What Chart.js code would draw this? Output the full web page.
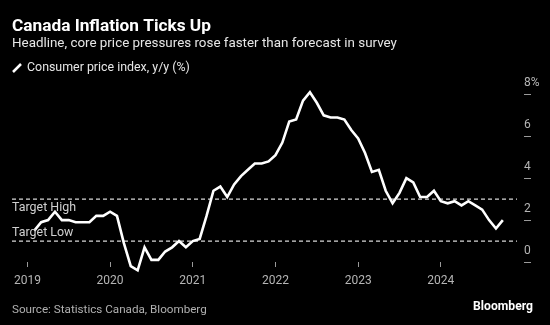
<!DOCTYPE html>
<html><head><meta charset="utf-8">
<script src="https://cdn.jsdelivr.net/npm/chart.js@4.4.1/dist/chart.umd.min.js"></script>
<style>html,body{margin:0;padding:0;background:#000;}#wrap{width:550px;height:325px;}</style>
</head><body><div id="wrap"><canvas id="c" width="550" height="325"></canvas></div>
<script>
// ---- data ----
const months = [
 '2019-02','2019-03','2019-04','2019-05','2019-06','2019-07','2019-08','2019-09','2019-10','2019-11','2019-12',
 '2020-01','2020-02','2020-03','2020-04','2020-05','2020-06','2020-07','2020-08','2020-09','2020-10','2020-11','2020-12',
 '2021-01','2021-02','2021-03','2021-04','2021-05','2021-06','2021-07','2021-08','2021-09','2021-10','2021-11','2021-12',
 '2022-01','2022-02','2022-03','2022-04','2022-05','2022-06','2022-07','2022-08','2022-09','2022-10','2022-11','2022-12',
 '2023-01','2023-02','2023-03','2023-04','2023-05','2023-06','2023-07','2023-08','2023-09','2023-10','2023-11','2023-12',
 '2024-01','2024-02','2024-03','2024-04','2024-05','2024-06','2024-07','2024-08','2024-09','2024-10'];
const cpi = [
 1.5,1.9,2.0,2.4,2.0,2.0,1.9,1.9,1.9,2.2,2.2,
 2.4,2.2,0.9,-0.2,-0.4,0.7,0.1,0.1,0.5,0.7,1.0,0.7,
 1.0,1.1,2.2,3.4,3.6,3.1,3.7,4.1,4.4,4.7,4.7,4.8,
 5.1,5.7,6.7,6.8,7.7,8.1,7.6,7.0,6.9,6.9,6.8,6.3,
 5.9,5.2,4.3,4.4,3.4,2.8,3.3,4.0,3.8,3.1,3.1,3.4,
 2.9,2.8,2.9,2.7,2.9,2.7,2.5,2.0,1.6,2.0];
const yearLabels = ['2019','2020','2021','2022','2023','2024'];
const yTickValues = [0,2,4,6,8];
const targetHigh = 3;
const targetLow = 1;
const seriesName = 'Consumer price index, y/y (%)';
const titleText = 'Canada Inflation Ticks Up';
const subtitleText = 'Headline, core price pressures rose faster than forecast in survey';
const sourceText = 'Source: Statistics Canada, Bloomberg';
const brandText = 'Bloomberg';

// ---- helpers ----
const FAM = 'Roboto, "Liberation Sans", sans-serif';
function monthIndex(s){ const [y,m]=s.split('-').map(Number); return (y-2019)*12+(m-1); }
const cpiPoints = months.map((m,i)=>({x:monthIndex(m), y:cpi[i]}));
const X_MIN = -2.235, X_MAX = 72.07, LINE_END = 71.06;

function fitFont(ctx, text, weight, targetW, base){
  ctx.font = `${weight} ${base}px ${FAM}`;
  const w = ctx.measureText(text).width;
  return `${weight} ${(base*targetW/w).toFixed(2)}px ${FAM}`;
}

const textPlugin = {
  id:'texts',
  afterDraw(chart){
    const ctx = chart.ctx; const y = chart.scales.y;
    ctx.save();
    ctx.textBaseline = 'alphabetic';
    ctx.textAlign = 'left';
    // title
    ctx.fillStyle = '#ffffff';
    ctx.font = fitFont(ctx, titleText, 'bold', 199, 15);
    ctx.fillText(titleText, 12, 30.5);
    // subtitle
    ctx.fillStyle = '#e6e6e6';
    ctx.font = fitFont(ctx, subtitleText, 'normal', 385, 13);
    ctx.fillText(subtitleText, 12, 46.5);
    // legend
    ctx.strokeStyle = '#ffffff'; ctx.lineWidth = 2.5; ctx.lineCap='butt';
    ctx.beginPath(); ctx.moveTo(13, 72); ctx.lineTo(21, 64); ctx.stroke();
    ctx.fillStyle = '#e6e6e6';
    ctx.font = fitFont(ctx, seriesName, 'normal', 163, 12);
    ctx.textBaseline = 'middle';
    ctx.fillText(seriesName, 27, 68);
    // target labels
    ctx.fillStyle = '#d0d0d0';
    ctx.font = fitFont(ctx, 'Target High', 'normal', 64, 12);
    ctx.fillText('Target High', 12, y.getPixelForValue(targetHigh)+8.5);
    ctx.fillText('Target Low', 12, y.getPixelForValue(targetLow)-8.5);
    // footer
    ctx.fillStyle = '#b0b0b0';
    ctx.font = fitFont(ctx, sourceText, 'normal', 195, 12);
    ctx.fillText(sourceText, 12, 310);
    ctx.fillStyle = '#ffffff';
    ctx.textAlign = 'right';
    ctx.font = fitFont(ctx, brandText, 'bold', 60, 12);
    ctx.fillText(brandText, 533, 307);
    ctx.restore();
  }
};

new Chart(document.getElementById('c'), {
  type:'line',
  data:{ datasets:[
    { label: seriesName, data: cpiPoints, borderColor:'#ffffff', borderWidth:2.6,
      pointRadius:0, tension:0, clip:false, borderJoinStyle:'miter' },
    { label:'Target High', data:[{x:X_MIN,y:targetHigh},{x:LINE_END,y:targetHigh}],
      borderColor:'#d8d8d8', borderWidth:1.3, borderDash:[4,3], pointRadius:0 },
    { label:'Target Low', data:[{x:X_MIN,y:targetLow},{x:LINE_END,y:targetLow}],
      borderColor:'#d8d8d8', borderWidth:1.3, borderDash:[4,3], pointRadius:0 }
  ]},
  options:{
    responsive:false, animation:false, devicePixelRatio:1,
    layout:{ padding:{ left:12, right:0, top:86, bottom:33 } },
    plugins:{ legend:{display:false}, tooltip:{enabled:false}, title:{display:false} },
    scales:{
      x:{ type:'linear', min:X_MIN, max:X_MAX,
        afterBuildTicks: s => { s.ticks = yearLabels.map((_,i)=>({value:i*12})); },
        afterFit: s => { s.height = 30; },
        grid:{ drawOnChartArea:false, drawTicks:true, tickLength:5, tickColor:'#9a9a9a', tickWidth:1 },
        border:{ display:false },
        ticks:{ color:'#b5b5b5', font:{ size:12, family:FAM }, padding:7, maxRotation:0,
          callback: v => yearLabels[Math.round(v/12)] }
      },
      y:{ position:'right', min:0, max:8.4,
        afterBuildTicks: s => { s.ticks = yTickValues.map(v=>({value:v})); },
        afterFit: s => { s.width = 26; },
        grid:{ drawOnChartArea:false, drawTicks:true, tickLength:7, tickColor:'#9a9a9a', tickWidth:1 },
        border:{ display:false },
        ticks:{ color:'#b5b5b5', font:{ size:12, family:FAM }, padding:-7, labelOffset:-11,
          callback: v => v===8 ? '8%' : String(v) }
      }
    }
  },
  plugins:[textPlugin]
});
</script></body></html>
